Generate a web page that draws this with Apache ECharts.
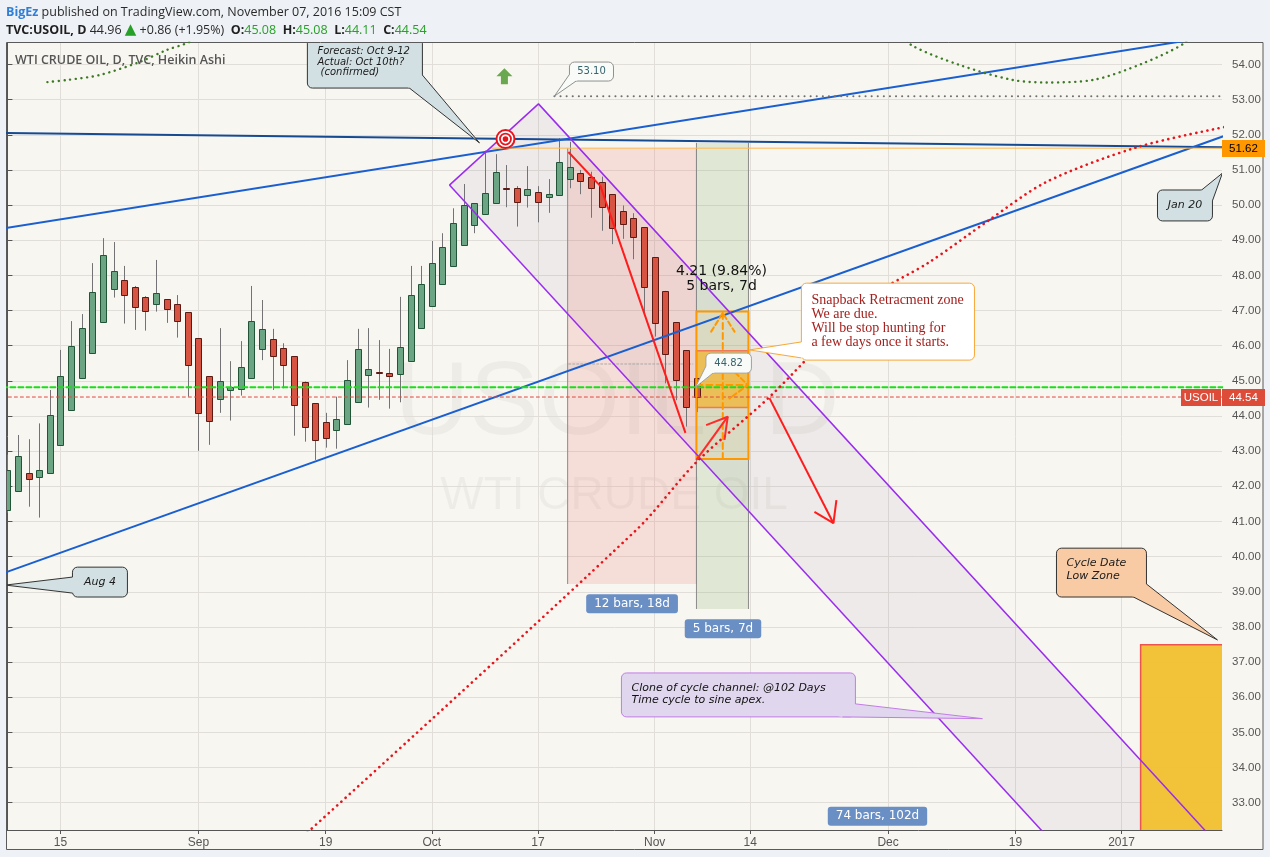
<!DOCTYPE html>
<html>
<head>
<meta charset="utf-8">
<title>USOIL Heikin Ashi</title>
<script src="https://cdn.jsdelivr.net/npm/echarts/dist/echarts.min.js"></script>
<style>
html,body{margin:0;padding:0;background:#eef1f5;}
#chart{width:1270px;height:857px;}
</style>
</head>
<body>
<div id="chart"></div>
<script>
// ---------------- DATA (Heikin Ashi candles, TVC:USOIL daily) ----------------
const dates = [
 '2016-08-08','2016-08-09','2016-08-10','2016-08-11','2016-08-12','2016-08-15','2016-08-16','2016-08-17','2016-08-18','2016-08-19',
 '2016-08-22','2016-08-23','2016-08-24','2016-08-25','2016-08-26','2016-08-29','2016-08-30','2016-08-31','2016-09-01','2016-09-02',
 '2016-09-05','2016-09-06','2016-09-07','2016-09-08','2016-09-09','2016-09-12','2016-09-13','2016-09-14','2016-09-15','2016-09-16',
 '2016-09-19','2016-09-20','2016-09-21','2016-09-22','2016-09-23','2016-09-26','2016-09-27','2016-09-28','2016-09-29','2016-09-30',
 '2016-10-03','2016-10-04','2016-10-05','2016-10-06','2016-10-07','2016-10-10','2016-10-11','2016-10-12','2016-10-13','2016-10-14',
 '2016-10-17','2016-10-18','2016-10-19','2016-10-20','2016-10-21','2016-10-24','2016-10-25','2016-10-26','2016-10-27','2016-10-28',
 '2016-10-31','2016-11-01','2016-11-02','2016-11-03','2016-11-04','2016-11-07'
];
const opens = [41.31,41.87,42.37,42.27,42.37,43.19,44.17,45.07,45.78,46.67,
 47.61,47.86,47.66,47.38,47.18,47.32,47.18,46.95,46.21,45.13,
 44.50,44.73,44.76,45.07,45.90,46.18,45.93,45.70,44.98,44.36,
 43.82,43.59,43.76,44.39,45.16,45.24,45.22,45.19,45.56,46.50,
 47.12,47.75,48.25,48.84,49.43,49.74,50.05,50.49,50.48,50.27,
 50.36,50.22,50.27,50.73,50.90,50.79,50.65,50.31,49.82,49.62,
 49.37,48.51,47.56,46.67,45.87,45.08];
const closes = [42.46,42.86,42.20,42.46,44.02,45.14,45.99,46.50,47.52,48.57,
 48.13,47.43,47.10,46.98,47.49,47.04,46.69,45.44,44.08,43.85,
 45.00,44.82,45.39,46.69,46.47,45.70,45.44,44.30,43.71,43.31,
 43.37,43.91,45.02,45.90,45.33,45.22,45.13,45.96,47.43,47.75,
 48.34,48.80,49.48,49.99,50.05,50.34,50.93,50.45,50.08,50.45,
 50.08,50.31,51.22,51.08,50.68,50.48,49.94,49.34,49.45,49.08,
 47.66,46.64,45.76,45.03,44.25,44.54];
const lows = [41.25,41.87,41.42,41.11,42.37,43.19,44.17,45.07,45.78,46.67,
 47.37,46.63,46.45,46.43,46.97,46.65,46.23,44.55,43.01,43.18,
 44.09,43.87,44.58,45.07,45.59,44.74,44.79,43.44,43.27,42.75,
 43.10,43.07,43.76,44.39,44.24,44.46,44.21,44.39,45.56,46.50,
 47.12,47.75,48.25,48.84,49.20,49.74,50.05,49.94,49.39,49.93,
 49.51,49.78,50.27,50.48,50.31,49.64,49.27,48.89,49.04,48.46,
 46.92,46.26,44.93,44.45,43.70,44.11];
const highs = [42.90,43.46,43.34,43.79,44.74,45.88,46.70,46.90,48.35,49.06,
 48.95,48.27,47.70,47.41,48.44,47.32,47.44,46.95,46.21,45.13,
 46.50,45.56,46.13,47.70,47.30,46.48,46.07,45.70,44.98,44.36,
 44.09,44.55,45.59,46.48,46.50,46.16,45.91,47.39,48.27,48.27,
 48.98,49.20,49.91,50.60,50.05,51.55,51.45,51.14,50.54,51.11,
 50.54,50.74,51.90,51.80,51.00,50.95,50.81,50.31,49.99,49.77,
 49.37,48.51,47.56,46.67,45.87,45.08];

const priceTicks = [33,34,35,36,37,38,39,40,41,42,43,44,45,46,47,48,49,50,51,52,53,54];
const tickDates = ['2016-08-15','2016-09-01','2016-09-19','2016-10-03','2016-10-17','2016-11-01','2016-11-14','2016-12-01','2016-12-19','2017-01-02'];
const tickLabels = ['15','Sep','19','Oct','17','Nov','14','Dec','19','2017'];

// ---------------- DRAWINGS: [bar offset from 2016-08-08, price] ----------------
const trendDarkBlue = [[0, 52.05], [114, 51.646]];
const trendBlueUpper = [[0, 49.355], [100, 54.147]];
const trendBlueLower = [[0, 39.57], [100, 50.38]];
const level5162 = [[45.6, 51.62], [120, 51.62]];
const level5310 = [[51.55, 53.10], [120, 53.10]];
const level4482 = [[-5, 44.82], [120, 44.82]];
const level4454 = [[-5, 44.54], [120, 44.54]];
const redDrop = [[52.87, 51.51], [55.89, 50.54], [63.9, 43.52]];
const redArrowUp = [[64.94, 42.75], [67.89, 43.98]];
const redArrowUpHead = [[65.85, 43.74], [67.89, 43.98], [67.58, 43.32]];
const redArrowDown = [[71.82, 44.51], [77.85, 40.95]];
const redArrowDownHead = [[76.06, 41.27], [77.85, 40.95], [78.13, 41.61]];
const sineArcRed = [[27.5, 31.94], [59.28, 40.76], [64.94, 42.69], [71.82, 44.54], [80.96, 47.30], [86.9, 48.38], [92.27, 49.52], [97.93, 50.66], [106.5, 51.65], [114.7, 52.22]];
const sineArcGreenLeft = [[3.77, 53.50], [5.65, 53.56], [8.67, 53.70], [12.44, 54.07], [14.99, 54.41], [17.15, 54.64], [18, 54.85]];
const sineArcGreenRight = [[84.6, 54.85], [85.2, 54.55], [89.7, 53.99], [94.75, 53.56], [97.9, 53.49], [102.3, 53.56], [107.0, 54.03], [110.9, 54.60], [111.4, 54.85]];
const channel = [[41.66, 50.57], [50.05, 52.88], [125, 28.22], [125, 23.15]];
const rangeMidLine = [[52.9, 45.48], [64.6, 45.48]];
const snapArrowV = [[67.42, 42.78], [67.42, 46.93]];
const snapArrowVHead = [[66.32, 46.40], [67.42, 46.93], [68.53, 46.40]];
const snapArrowH = [[64.94, 44.88], [69.8, 44.88]];
const snapArrowHHead = [[68.05, 45.40], [69.78, 44.88], [68.05, 44.50]];

// rectangles [x1, p1, x2, p2]
const rangeRed = [52.8, 51.62, 64.94, 39.22];
const rangeGreen = [64.94, 51.77, 69.84, 38.51];
const snapZoneTop = [64.94, 46.97, 69.84, 45.86];
const snapZoneMid = [64.94, 45.86, 69.84, 44.24];
const snapZoneBot = [64.94, 44.24, 69.84, 42.78];
const cycleLowZone = [106.8, 37.49, 125, 30];

// callouts [boxX1, boxP1, boxX2, boxP2, tipX, tipP]
const calloutForecast = [28.27, 54.75, 39.11, 53.33, 44.49, 51.77];
const calloutJan20 = [108.39, 50.43, 113.57, 49.55, 114.51, 50.91];
const calloutAug4 = [6.13, 39.70, 11.31, 38.85, -0.19, 39.19];
const calloutCycle = [98.87, 40.24, 107.35, 38.85, 114.04, 37.63];
const calloutClone = [57.87, 36.69, 79.92, 35.44, 91.89, 35.39];
const calloutSnap = [74.83, 47.78, 91.14, 45.59, 69.93, 45.88];
const callout4482 = [65.83, 45.79, 70.12, 45.22, 64.85, 44.82];
const callout5310 = [52.97, 54.07, 57.12, 53.53, 51.55, 53.10];

// text labels [x, price]
const labelRange12 = [58.87, 38.66];
const labelRange5 = [67.44, 37.95];
const labelRange74 = [82.0, 32.61];
const labelMeasure1 = [67.3, 48.12];
const labelMeasure2 = [67.3, 47.70];
const targetMark = [46.94, 51.88];
const upArrowMark = [46.84, 53.64];
const lastPrice = 44.54;
const resistancePrice = 51.62;

// ---------------- helpers ----------------
function barIndex(ds) {
  const base = Date.UTC(2016, 7, 8);
  const [y, m, d] = ds.split('-').map(Number);
  const days = Math.round((Date.UTC(y, m - 1, d) - base) / 86400000);
  const weeks = Math.floor(days / 7), rem = days - weeks * 7;
  return weeks * 5 + Math.min(rem, 5);
}
function extendLine(pts, x0, x1) {
  const [a, b] = pts;
  const k = (b[1] - a[1]) / (b[0] - a[0]);
  return [[x0, a[1] + k * (x0 - a[0])], [x1, a[1] + k * (x1 - a[0])]];
}
const X_MIN = -0.04, X_MAX = 114.47, Y_MIN = 32.222, Y_MAX = 54.612;
const tickIdx = tickDates.map(barIndex);
const candleData = dates.map((d, i) => [barIndex(d), opens[i], closes[i], lows[i], highs[i]]);

function lineS(pts, color, width, type, z, smooth) {
  return {type: 'line', data: pts, symbol: 'none', showSymbol: false, silent: true, z: z || 4,
    smooth: smooth || false, clip: true, animation: false,
    lineStyle: {color: color, width: width, type: type || 'solid', cap: (Array.isArray(type) ? 'round' : 'butt')}};
}
function polyS(pts, fill, z) {
  return {type: 'custom', data: pts, clip: true, silent: true, z: z || 1, encode: {x: 0, y: 1},
    renderItem: function (params, api) {
      if (params.dataIndex !== 0) return;
      return {type: 'polygon', shape: {points: pts.map(p => api.coord(p))}, style: {fill: fill}};
    }};
}
function rectS(rects, styles, z, clip) {
  return {type: 'custom', data: rects, clip: clip !== false, silent: true, z: z || 1, encode: {x: [0, 2], y: [1, 3]},
    renderItem: function (params, api) {
      const s = styles[params.dataIndex];
      const p1 = api.coord([api.value(0), api.value(1)]), p2 = api.coord([api.value(2), api.value(3)]);
      const x = Math.min(p1[0], p2[0]), y = Math.min(p1[1], p2[1]);
      const w = Math.abs(p2[0] - p1[0]), h = Math.abs(p2[1] - p1[1]);
      const ch = [{type: 'rect', shape: {x: x, y: y, width: w, height: h},
        style: {fill: s.fill || 'none', stroke: s.stroke || 'none', lineWidth: s.lineWidth || 1}}];
      if (s.edges) {
        ch.push({type: 'line', shape: {x1: x, y1: y, x2: x, y2: y + h}, style: {stroke: s.edges, lineWidth: 1}});
        ch.push({type: 'line', shape: {x1: x + w, y1: y, x2: x + w, y2: y + h}, style: {stroke: s.edges, lineWidth: 1}});
      }
      return {type: 'group', children: ch};
    }};
}

// ---------------- callouts ----------------
const calloutBoxes = [calloutForecast, calloutJan20, calloutAug4, calloutCycle, calloutClone, calloutSnap, callout4482, callout5310];
const calloutCfg = [
  {text: 'Forecast: Oct 9-12\nActual: Oct 10th?\n (confirmed)', font: 'italic 10px "DejaVu Sans"', lh: 10.5, color: '#1a1a1a', fill: '#d3e0e3', stroke: '#333', align: 'left', dy: -1},
  {text: 'Jan 20', font: 'italic 11px "DejaVu Sans"', lh: 13, color: '#1a1a1a', fill: '#d3e0e3', stroke: '#333', align: 'center'},
  {text: 'Aug 4', font: 'italic 11px "DejaVu Sans"', lh: 13, color: '#1a1a1a', fill: '#d3e0e3', stroke: '#333', align: 'center'},
  {text: 'Cycle Date\nLow Zone', font: 'italic 11px "DejaVu Sans"', lh: 13, color: '#1a1a1a', fill: '#f8cba4', stroke: '#333', align: 'left', dy: -3},
  {text: 'Clone of cycle channel: @102 Days\nTime cycle to sine apex.', font: 'italic 11px "DejaVu Sans"', lh: 12, color: '#111', fill: '#e0d7ee', stroke: '#c27ce6', align: 'left', dy: -1},
  {text: 'Snapback Retracment zone\nWe are due.\nWill be stop hunting for\na few days once it starts.', font: '14px "Liberation Serif"', lh: 14, color: '#a3211e', fill: '#ffffff', stroke: '#f7a838', align: 'left'},
  {text: '44.82', font: '10px "DejaVu Sans"', lh: 12, color: '#36636e', fill: '#f8fbf8', stroke: '#a0a0a0', align: 'center'},
  {text: '53.10', font: '10px "DejaVu Sans"', lh: 12, color: '#36636e', fill: '#f8fbf8', stroke: '#909090', align: 'center'}
];
function renderCallout(params, api) {
  const c = calloutCfg[params.dataIndex];
  const p1 = api.coord([api.value(0), api.value(1)]), p2 = api.coord([api.value(2), api.value(3)]);
  const tip = api.coord([api.value(4), api.value(5)]);
  const x1 = Math.min(p1[0], p2[0]), x2 = Math.max(p1[0], p2[0]);
  const y1 = Math.min(p1[1], p2[1]), y2 = Math.max(p1[1], p2[1]);
  let b1, b2;
  if (tip[1] >= y1 && tip[1] <= y2 && (tip[0] < x1 || tip[0] > x2)) {
    const ex = tip[0] < x1 ? x1 : x2;
    const cy = Math.min(Math.max(tip[1], y1 + 8), y2 - 8);
    b1 = [ex, cy - 8]; b2 = [ex, cy + 8];
  } else {
    const cx = tip[0] < (x1 + x2) / 2 ? x1 : x2;
    const cy = tip[1] < (y1 + y2) / 2 ? y1 : y2;
    const off = Math.min(13, (y2 - y1) * 0.35);
    const sx = cx === x1 ? 1 : -1, sy = cy === y1 ? 1 : -1;
    b1 = [cx, cy + sy * off]; b2 = [cx + sx * off, cy];
  }
  const ctr = [(x1 + x2) / 2, (y1 + y2) / 2];
  const tx = c.align === 'center' ? ctr[0] : x1 + 10;
  return {type: 'group', children: [
    {type: 'rect', shape: {x: x1, y: y1, width: x2 - x1, height: y2 - y1, r: 5}, style: {fill: c.fill, stroke: c.stroke, lineWidth: 1}},
    {type: 'polygon', shape: {points: [b1, tip, b2, ctr]}, style: {fill: c.fill}},
    {type: 'polyline', shape: {points: [b1, tip, b2]}, style: {stroke: c.stroke, lineWidth: 1, fill: 'none'}},
    {type: 'text', x: tx, y: ctr[1] + (c.dy || 0), style: {text: c.text, font: c.font, fill: c.color, lineHeight: c.lh,
      align: c.align, verticalAlign: 'middle', textAlign: c.align, textVerticalAlign: 'middle'}}
  ]};
}

// ---------------- text labels ----------------
const labelPts = [labelRange12, labelRange5, labelRange74, labelMeasure1, labelMeasure2];
const labelCfg = [
  {text: '12 bars, 18d', bg: '#6a8fc5', color: '#fff', font: '12px "DejaVu Sans"'},
  {text: '5 bars, 7d', bg: '#6a8fc5', color: '#fff', font: '12px "DejaVu Sans"'},
  {text: '74 bars, 102d', bg: '#6a8fc5', color: '#fff', font: '12px "DejaVu Sans"'},
  {text: '4.21 (9.84%)', color: '#111', font: '14px "DejaVu Sans"'},
  {text: '5 bars, 7d', color: '#111', font: '14px "DejaVu Sans"'}
];
function renderLabel(params, api) {
  const c = labelCfg[params.dataIndex];
  const p = api.coord([api.value(0), api.value(1)]);
  const st = {text: c.text, font: c.font, fill: c.color, align: 'center', verticalAlign: 'middle', textAlign: 'center', textVerticalAlign: 'middle'};
  if (c.bg) { st.backgroundColor = c.bg; st.padding = [4, 8, 3, 8]; st.borderRadius = 3; }
  return {type: 'text', x: p[0], y: p[1], style: st};
}

// ---------------- candles ----------------
function renderCandle(params, api) {
  const i = api.value(0), o = api.value(1), c = api.value(2), l = api.value(3), h = api.value(4);
  const po = api.coord([i, o]), pc = api.coord([i, c]), pl = api.coord([i, l]), ph = api.coord([i, h]);
  const up = c >= o;
  const x = Math.round(po[0]);
  const top = Math.min(po[1], pc[1]), bot = Math.max(po[1], pc[1]);
  return {type: 'group', children: [
    {type: 'line', shape: {x1: x + 0.5, y1: ph[1], x2: x + 0.5, y2: pl[1]}, style: {stroke: '#737375', lineWidth: 1}},
    {type: 'rect', shape: {x: x - 2.5, y: Math.round(top) + 0.5, width: 6, height: Math.max(Math.round(bot - top), 1)},
      style: {fill: up ? '#6ba583' : '#d75442', stroke: up ? '#225437' : '#5b1a13', lineWidth: 1}}
  ]};
}

// ---------------- icons & price tags ----------------
function renderIcons(params, api) {
  const p = api.coord([api.value(0), api.value(1)]);
  if (params.dataIndex === 0) {
    return {type: 'group', children: [
      {type: 'circle', shape: {cx: p[0], cy: p[1], r: 9}, style: {fill: '#fff', stroke: '#e8141c', lineWidth: 2}},
      {type: 'circle', shape: {cx: p[0], cy: p[1], r: 5.5}, style: {fill: '#fff', stroke: '#e8141c', lineWidth: 1.8}},
      {type: 'circle', shape: {cx: p[0], cy: p[1], r: 2.8}, style: {fill: '#e8141c'}}
    ]};
  }
  const x = p[0], y = p[1];
  return {type: 'polygon', shape: {points: [[x, y - 9], [x + 8, y - 1], [x + 3.5, y - 1], [x + 3.5, y + 7], [x - 3.5, y + 7], [x - 3.5, y - 1], [x - 8, y - 1]]},
    style: {fill: '#6aa84f'}};
}
const tagCfg = [
  {text: resistancePrice.toFixed(2), bg: '#ff9800', color: '#000', axis: true},
  {text: lastPrice.toFixed(2), bg: '#dd4b39', color: '#fff', axis: true},
  {text: 'USOIL', bg: '#dd4b39', color: '#fff', axis: false}
];
function renderTag(params, api) {
  const c = tagCfg[params.dataIndex];
  const p = api.coord([X_MAX, api.value(0)]);
  const x0 = c.axis ? p[0] : p[0] - 41;
  const w = c.axis ? 43 : 40;
  return {type: 'group', children: [
    {type: 'rect', shape: {x: x0, y: Math.round(p[1]) - 8, width: w, height: 17}, style: {fill: c.bg}},
    {type: 'text', x: x0 + (c.axis ? 7 : w / 2), y: Math.round(p[1]) + 0.5, style: {text: c.text, fill: c.color,
      font: '11.5px "Liberation Sans Narrow", "Liberation Sans", Arial, sans-serif',
      align: c.axis ? 'left' : 'center', verticalAlign: 'middle', textAlign: c.axis ? 'left' : 'center', textVerticalAlign: 'middle'}}
  ]};
}

// ---------------- chart ----------------
const chart = echarts.init(document.getElementById('chart'), null, {renderer: 'canvas'});
const axisFont = '"Liberation Sans Narrow", "Liberation Sans", Arial, sans-serif';
const purple = '#9a2cf0';
const option = {
  animation: false,
  backgroundColor: '#eef1f5',
  grid: {left: 7, right: 48, top: 43, bottom: 27, containLabel: false},
  xAxis: {
    type: 'value', min: X_MIN, max: X_MAX,
    axisLine: {show: true, onZero: false, lineStyle: {color: '#555', width: 1}},
    axisTick: {show: true, length: 4, inside: false, customValues: tickIdx, lineStyle: {color: '#555'}},
    axisLabel: {show: true, customValues: tickIdx, color: '#555', fontSize: 12, fontFamily: axisFont, margin: 7,
      formatter: function (v) { const k = tickIdx.indexOf(Math.round(v)); return k >= 0 ? tickLabels[k] : ''; }},
    splitLine: {show: true, lineStyle: {color: '#e1ded9', width: 1}}
  },
  yAxis: {
    type: 'value', position: 'right', min: Y_MIN, max: Y_MAX, scale: true,
    axisLine: {show: true, lineStyle: {color: '#555', width: 1}},
    axisTick: {show: true, length: 5, customValues: priceTicks, lineStyle: {color: '#555'}},
    axisLabel: {show: true, customValues: priceTicks, color: '#555', fontSize: 11.5, fontFamily: axisFont, margin: 10,
      formatter: function (v) { return v.toFixed(2); }},
    splitLine: {show: true, lineStyle: {color: '#e1ded9', width: 1}}
  },
  graphic: [
    {type: 'rect', z: -100, shape: {x: 6.5, y: 42.5, width: 1256.5, height: 807}, style: {fill: '#f8f6f1', stroke: '#5a5a5a', lineWidth: 1}},
    {type: 'text', z: -50, x: 617, y: 405, style: {text: 'USOIL, D', font: '104px "Liberation Sans", Arial, sans-serif', fill: 'rgba(0,0,0,0.04)', align: 'center', verticalAlign: 'middle'}},
    {type: 'text', z: -50, x: 614, y: 496, style: {text: 'WTI CRUDE OIL', font: '46px "Liberation Sans", Arial, sans-serif', fill: 'rgba(0,0,0,0.04)', align: 'center', verticalAlign: 'middle'}},
    {type: 'text', z: 50, x: 15, y: 60, style: {text: 'WTI CRUDE OIL, D, TVC, Heikin Ashi', font: '600 12.5px "Open Sans", sans-serif', fill: '#555', verticalAlign: 'middle'}},
    {type: 'text', z: 50, x: 6, y: 12, style: {
      text: '{blue|BigEz} published on TradingView.com, November 07, 2016 15:09 CST',
      font: '12.5px "Open Sans", sans-serif', fill: '#2a2a2a', verticalAlign: 'middle',
      rich: {blue: {font: 'bold 12.5px "Open Sans", sans-serif', fill: '#2f7ed8'}}}},
    {type: 'text', z: 50, x: 6, y: 30, style: {
      text: '{b|TVC:USOIL, D} 44.96 {t|▲} +0.86 (+1.95%)  {b|O:}{g|45.08}  {b|H:}{g|45.08}  {b|L:}{g|44.11}  {b|C:}{g|44.54}',
      font: '12.5px "Open Sans", sans-serif', fill: '#2a2a2a', verticalAlign: 'middle',
      rich: {b: {font: 'bold 12.5px "Open Sans", sans-serif', fill: '#1f1f1f'}, g: {font: '12.5px "Open Sans", sans-serif', fill: '#27a027'},
        t: {font: '15px "DejaVu Sans", sans-serif', fill: '#27a027'}}}}
  ],
  series: [
    polyS(channel, 'rgba(110,90,140,0.075)', 1),
    rectS([rangeRed, rangeGreen, cycleLowZone], [
      {fill: 'rgba(235,105,95,0.17)', edges: '#8a8a8a'},
      {fill: 'rgba(125,170,95,0.19)', edges: '#8a8a8a'},
      {fill: 'rgba(241,193,48,0.96)', stroke: '#ef5350', lineWidth: 1.5}
    ], 1),
    rectS([snapZoneTop, snapZoneMid, snapZoneBot], [
      {fill: 'rgba(255,165,0,0.06)'},
      {fill: 'rgba(242,178,40,0.72)', stroke: 'rgba(242,110,80,0.9)', lineWidth: 1.5},
      {fill: 'rgba(255,165,0,0.06)'}
    ], 2),
    lineS(rangeMidLine, '#a9a9a9', 1, [2, 2], 2),
    {type: 'custom', data: candleData, encode: {x: 0, y: [1, 2, 3, 4]}, clip: true, z: 3, silent: true, renderItem: renderCandle},
    lineS(extendLine(trendDarkBlue, -5, 125), '#164a91', 2, 'solid', 4),
    lineS(extendLine(trendBlueUpper, -5, 125), '#1a5fd0', 2, 'solid', 4),
    lineS(extendLine(trendBlueLower, -5, 125), '#1a5fd0', 2, 'solid', 4),
    lineS(level5162, '#ffb74d', 1, 'solid', 4),
    lineS(level5310, '#707070', 2, [0.1, 6], 4),
    lineS(level4482, '#18e018', 2, [5, 3], 4),
    lineS(level4454, '#e04a3a', 1, [3, 3], 4),
    lineS([channel[0], channel[1], channel[2]], purple, 1.5, 'solid', 4),
    lineS([channel[0], channel[3]], purple, 1.5, 'solid', 4),
    lineS(sineArcRed, '#e8141c', 2.6, [0.1, 5.6], 4, 0.3),
    lineS(sineArcGreenLeft, '#3d7a26', 2.4, [0.1, 5.6], 4, 0.3),
    lineS(sineArcGreenRight, '#3d7a26', 2.4, [0.1, 5.6], 4, 0.3),
    rectS([[64.94, 46.97, 69.84, 42.78]], [{stroke: '#ff9800', lineWidth: 2}], 4),
    lineS(snapArrowV, '#ff9800', 2, [6, 4], 4),
    lineS(snapArrowVHead, '#ff9800', 2, [5, 3], 4),
    lineS(snapArrowH, '#ff9800', 2, [6, 4], 4),
    lineS(snapArrowHHead, '#ff9800', 2, [5, 3], 4),
    lineS(redDrop, '#ff1c1c', 2, 'solid', 5),
    lineS(redArrowUp, '#ff2a2a', 2, 'solid', 5),
    lineS(redArrowUpHead, '#ff2a2a', 2, 'solid', 5),
    lineS(redArrowDown, '#ff1c1c', 2, 'solid', 5),
    lineS(redArrowDownHead, '#ff1c1c', 2, 'solid', 5),
    {type: 'custom', data: [targetMark, upArrowMark], encode: {x: 0, y: 1}, clip: false, z: 6, silent: true, renderItem: renderIcons},
    {type: 'custom', data: calloutBoxes, encode: {x: [0, 2, 4], y: [1, 3, 5]}, clip: true, z: 7, silent: true, renderItem: renderCallout},
    {type: 'custom', data: labelPts, encode: {x: 0, y: 1}, clip: false, z: 7, silent: true, renderItem: renderLabel},
    {type: 'custom', data: [[resistancePrice], [lastPrice], [lastPrice]], encode: {y: 0}, clip: false, z: 8, silent: true,
      renderItem: renderTag}
  ]
};
chart.setOption(option);
</script>
</body>
</html>
